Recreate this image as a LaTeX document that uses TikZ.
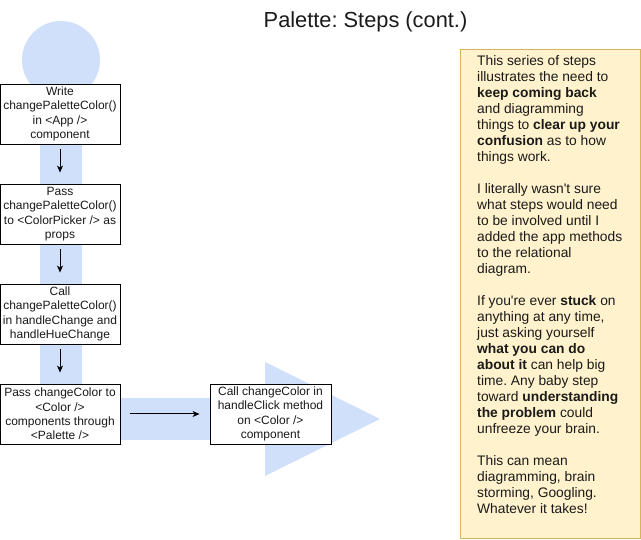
\documentclass[tikz,border=0pt]{standalone}
\usepackage{fontspec}
\setmainfont{Liberation Sans}
\usetikzlibrary{arrows.meta}
\definecolor{band}{HTML}{D0E0FB}
\definecolor{notefill}{HTML}{FFF2CC}
\definecolor{notedraw}{HTML}{D6B656}
\definecolor{txt}{HTML}{1A1A1A}
\frenchspacing
\begin{document}
\begin{tikzpicture}[x=1pt,y=-1pt,
  stepbox/.style={draw=black, line width=0.9pt, fill=white, minimum width=120pt, minimum height=60pt,
    inner sep=0pt, align=center, font=\fontsize{12}{14.3}\selectfont, text=txt},
  flow/.style={line width=1pt, -{Stealth[length=7pt,width=6pt,inset=2pt]}},
  bandfill/.style={fill=band, draw=none}]
\useasboundingbox (0,0) rectangle (641,540);
% background flow band
\fill[bandfill] (61,60) circle (39);
\fill[bandfill] (40,60) rectangle (82,440);
\fill[bandfill] (40,398) rectangle (266,440);
\fill[bandfill] (265,362) -- (380,419) -- (265,476) -- cycle;
% title
\node[font=\fontsize{21.8}{26}\selectfont, text=txt] (title) at (365.5,22) {Palette: Steps (cont.)};
% steps
\node[stepbox] (b1) at (60,114) {Write\\changePaletteColor()\\in <App />\\component};
\node[stepbox] (b2) at (60,214) {Pass\\changePaletteColor()\\to <ColorPicker /> as\\props};
\node[stepbox] (b3) at (60,314) {Call\\changePaletteColor()\\in handleChange and\\handleHueChange};
\node[stepbox] (b4) at (60,414) {Pass changeColor to\\<Color />\\components through\\<Palette />};
\node[stepbox, minimum width=121pt] (b5) at (270.5,414) {Call changeColor in\\handleClick method\\on <Color />\\component};
\draw[flow, shorten <=5pt, shorten >=11pt] (b1) -- (b2);
\draw[flow, shorten <=5pt, shorten >=11pt] (b2) -- (b3);
\draw[flow, shorten <=5pt, shorten >=11pt] (b3) -- (b4);
\draw[flow, shorten <=10pt, shorten >=10pt] (b4) -- (b5);
% note panel
\node[draw=notedraw, fill=notefill, line width=0.9pt, minimum width=180pt, minimum height=489pt,
  inner sep=0pt, anchor=north west] (note) at (460,49) {};
\node[anchor=north west, inner sep=0pt, align=left, text=txt,
  font=\fontsize{13.8}{16}\selectfont] (notetext) at (477,55.5) {%
This series of steps\\
illustrates the need to\\
\textbf{keep coming back}\\
and diagramming\\
things to \textbf{clear up your}\\
\textbf{confusion} as to how\\
things work.\\[16pt]
I literally wasn\textquotesingle t sure\\
what steps would need\\
to be involved until I\\
added the app methods\\
to the relational\\
diagram.\\[16pt]
If you\textquotesingle re ever \textbf{stuck} on\\
anything at any time,\\
just asking yourself\\
\textbf{what you can do}\\
\textbf{about it} can help big\\
time. Any baby step\\
toward \textbf{understanding}\\
\textbf{the problem} could\\
unfreeze your brain.\\[16pt]
This can mean\\
diagramming, brain\\
storming, Googling.\\
Whatever it takes!};
\end{tikzpicture}
\end{document}
